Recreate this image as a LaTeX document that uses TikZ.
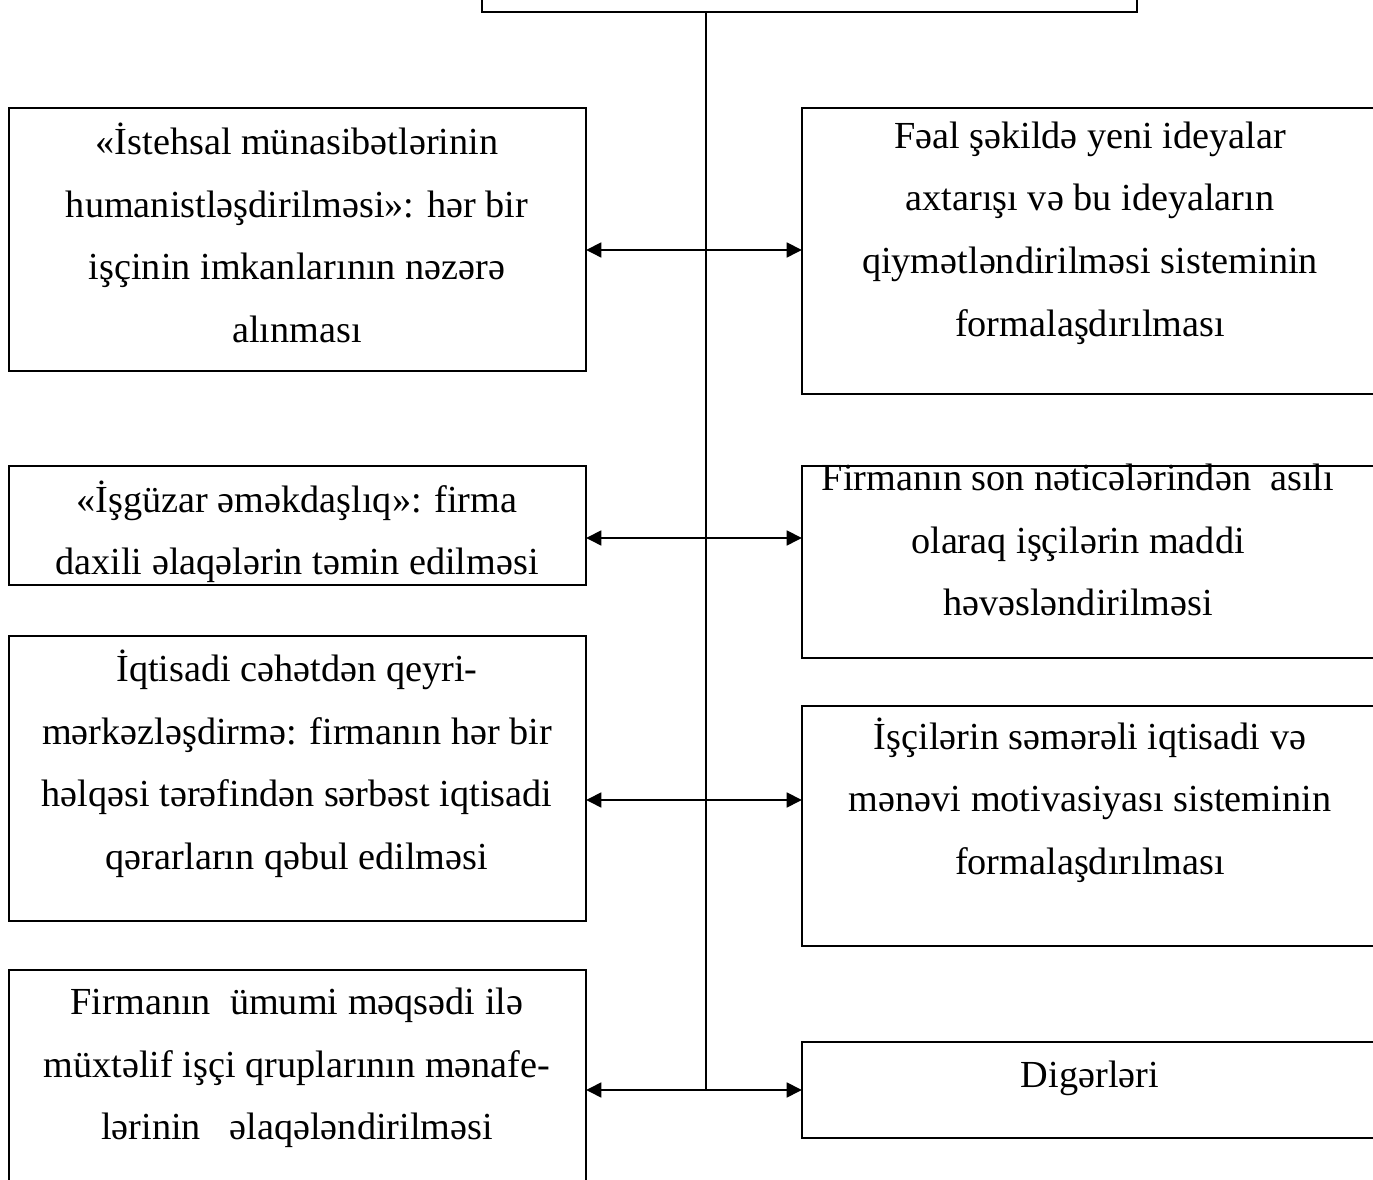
\documentclass[tikz,border=0pt]{standalone}
\usepackage{fontspec}
\setmainfont{Liberation Serif}
\usetikzlibrary{arrows.meta,positioning}

\tikzset{
  >={Triangle[length=5.6pt,width=5.4pt]},
  every node/.style={font=\fontsize{14}{22.9}\selectfont},
  % --- boxes
  panel/.style 2 args = {draw, line width=0.8pt, inner sep=0pt, outer sep=0pt,
                         anchor=north west, minimum width=#1*0.366pt,
                         minimum height=#2*0.366pt},
  txt/.style   = {align=center, inner sep=0pt},
  % --- edges
  spine/.style = {line width=0.8pt},
  link/.style  = {<->, line width=0.8pt},
}

\begin{document}
\begin{tikzpicture}[x=0.366pt, y=-0.366pt]
  \clip (0,0) rectangle (1373,1180);

  % head box, cut off by the top edge
  \node[panel={655}{80}] (top) at (482,-68) {};

  % left column
  \node[panel={577}{263}] (L1) at (9,108) {};
  \node[panel={577}{119}] (L2) at (9,466) {};
  \node[panel={577}{285}] (L3) at (9,636) {};
  \node[panel={577}{260}] (L4) at (9,970) {};

  % right column
  \node[panel={576}{286}] (R1) at (802,108) {};
  \node[panel={576}{192}] (R2) at (802,466) {};
  \node[panel={576}{240}] (R3) at (802,706) {};
  \node[panel={576}{96}]  (R4) at (802,1042) {};

  % texts
  \node[txt] (tL1) at (297,233) {«İstehsal münasibətlərinin\\humanistləşdirilməsi»: hər bir\\işçinin imkanlarının nəzərə\\alınması};
  \begin{scope}
    \clip (L2.south west) rectangle (L2.north east);
    \node[txt] (tL2) at (297,532) {«İşgüzar əməkdaşlıq»: firma\\daxili əlaqələrin təmin edilməsi};
  \end{scope}
  \node[txt] (tL3) at (297,764) {İqtisadi cəhətdən qeyri-\\mərkəzləşdirmə: firmanın hər bir\\həlqəsi tərəfindən sərbəst iqtisadi\\qərarların qəbul edilməsi};
  \node[txt] (tL4) at (297,1068) {Firmanın\ \ ümumi məqsədi ilə\\müxtəlif işçi qruplarının mənafe-\\lərinin\ \ \ əlaqələndirilməsi};

  \node[txt] (tR1) at (1090,233) {Fəal şəkildə yeni ideyalar\\axtarışı və bu ideyaların\\qiymətləndirilməsi sisteminin\\formalaşdırılması};
  \node[txt] (tR2) at (1078,540) {Firmanın son nəticələrindən\ \ asılı\\olaraq işçilərin maddi\\həvəsləndirilməsi};
  \node[txt] (tR3) at (1090,800) {İşçilərin səmərəli iqtisadi və\\mənəvi motivasiyası sisteminin\\formalaşdırılması};
  \node[txt] (tR4) at (1090,1078) {Digərləri};

  % spine and branches
  \coordinate (s1) at (706,250);
  \coordinate (s2) at (706,538);
  \coordinate (s3) at (706,800);
  \coordinate (s4) at (706,1090);
  \draw[spine] (top.south -| s1) -- (s4);
  \draw[link] (L1.east |- s1) -- (R1.west |- s1);
  \draw[link] (L2.east |- s2) -- (R2.west |- s2);
  \draw[link] (L3.east |- s3) -- (R3.west |- s3);
  \draw[link] (L4.east |- s4) -- (R4.west |- s4);
\end{tikzpicture}
\end{document}
